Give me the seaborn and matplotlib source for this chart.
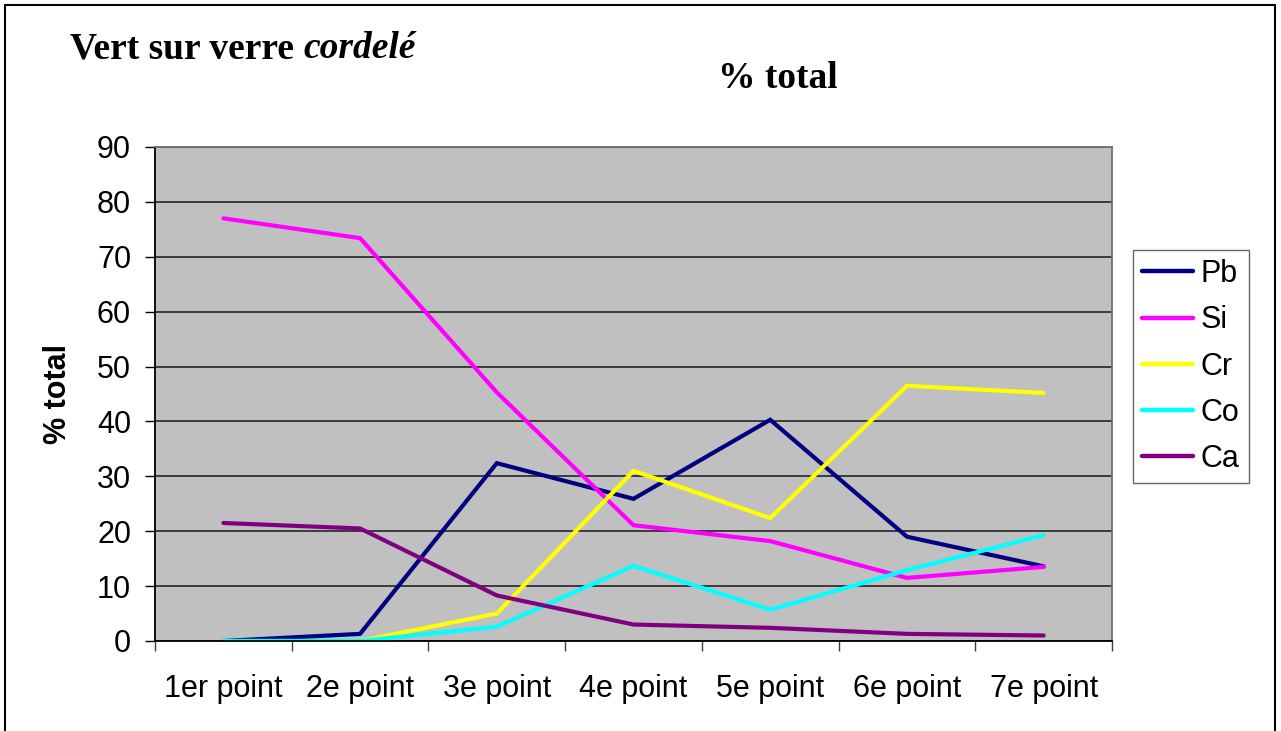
import matplotlib
matplotlib.use("Agg")
import matplotlib.pyplot as plt
from matplotlib.lines import Line2D
import seaborn as sns
import pandas as pd
import numpy as np

# Measured composition (% total) at seven analysis points
points = ["1er point", "2e point", "3e point", "4e point", "5e point", "6e point", "7e point"]
pb = [0.0, 1.3, 32.4, 25.9, 40.3, 19.0, 13.6]
si = [77.0, 73.4, 45.3, 21.1, 18.2, 11.5, 13.5]
cr = [0.0, 0.0, 5.0, 31.0, 22.4, 46.5, 45.2]
co = [0.0, 0.0, 2.6, 13.7, 5.7, 12.9, 19.3]
ca = [21.5, 20.5, 8.3, 3.0, 2.4, 1.3, 1.0]
elements = ["Pb", "Si", "Cr", "Co", "Ca"]
colors = ["#000080", "#FF00FF", "#FFFF00", "#00FFFF", "#800080"]
y_ticks = list(range(0, 91, 10))

series = dict(zip(elements, [pb, si, cr, co, ca]))
df = pd.DataFrame(
    [(i, el, v) for el, vals in series.items() for i, v in enumerate(vals)],
    columns=["idx", "element", "value"],
)

sns.set_theme(style="white")
plt.rcParams["font.family"] = ["Liberation Sans", "DejaVu Sans"]
plt.rcParams["text.color"] = "black"
plt.rcParams["axes.labelcolor"] = "black"
plt.rcParams["xtick.color"] = "black"
plt.rcParams["ytick.color"] = "black"

fig = plt.figure(figsize=(12.81, 7.31), dpi=100)
fig.patch.set_facecolor("white")
ax = fig.add_axes([155 / 1281, 1 - 641 / 731, (1112 - 155) / 1281, (641 - 147) / 731])
ax.set_facecolor("#C0C0C0")

sns.lineplot(data=df, x="idx", y="value", hue="element", hue_order=elements,
             palette=colors, linewidth=3.0, ax=ax, legend=False, sort=False,
             solid_capstyle="round", solid_joinstyle="miter")

ax.set_xlim(-0.5, len(points) - 0.5)
ax.set_ylim(0, 90)
ax.set_yticks(y_ticks)
ax.set_yticklabels([str(t) for t in y_ticks], fontsize=22)
ax.yaxis.grid(True, color="#303030", linewidth=1.3)
ax.set_axisbelow(True)

# Category boundaries carry the tick marks; labels sit at the centres
ax.set_xticks(np.arange(-0.5, len(points), 1.0))
ax.set_xticklabels([])
ax.set_xticks(np.arange(len(points)), minor=True)
ax.set_xticklabels(points, minor=True, fontsize=22)
ax.tick_params(axis="x", which="major", direction="out", length=7.2, width=1, color="#404040", bottom=True)
ax.tick_params(axis="x", which="minor", length=0, pad=24)
ax.tick_params(axis="y", direction="out", length=7.2, width=1, color="black", left=True, pad=10)

for side in ["left", "bottom"]:
    ax.spines[side].set_color("black")
    ax.spines[side].set_linewidth(1.3)
for side in ["top", "right"]:
    ax.spines[side].set_color("#707070")
    ax.spines[side].set_linewidth(1.3)

ax.set_xlabel("")
ax.set_ylabel("% total", fontsize=22, fontweight="bold")
ax.yaxis.set_label_coords(-0.0857, 0.5)

handles = [Line2D([0], [0], color=c, linewidth=3.2, solid_capstyle="round") for c in colors]
leg = fig.legend(handles, elements, loc="upper left",
                 bbox_to_anchor=(1133 / 1281, 1 - 250 / 731), bbox_transform=fig.transFigure,
                 fontsize=22, frameon=True, fancybox=False, borderaxespad=0,
                 handlelength=1.67, handletextpad=0.25, labelspacing=0.53, borderpad=0.3)
leg.get_frame().set_edgecolor("#404040")
leg.get_frame().set_linewidth(1.0)

# Titles
serif = ["Liberation Serif", "DejaVu Serif"]
t1 = fig.text(70 / 1281, 1 - 49 / 731, "Vert sur verre ", family=serif, fontsize=27,
              fontweight="bold", ha="left", va="center")
fig.canvas.draw()
bb = t1.get_window_extent(fig.canvas.get_renderer())
fig.text(bb.x1 / fig.bbox.width, 1 - 49 / 731, "cordelé", family=serif, fontsize=27,
         fontweight="bold", style="italic", ha="left", va="center")
fig.text(778 / 1281, 1 - 78 / 731, "% total", family=serif, fontsize=27,
         fontweight="bold", ha="center", va="center")

# Outer frame
for xs, ys in [((5, 5), (731, 5)), ((5, 1275), (5, 5)), ((1275, 1275), (5, 731))]:
    fig.add_artist(Line2D([x / 1281 for x in xs], [1 - y / 731 for y in ys],
                          color="black", linewidth=1.5, transform=fig.transFigure))

fig.savefig("out.png", dpi=100, facecolor="white")
